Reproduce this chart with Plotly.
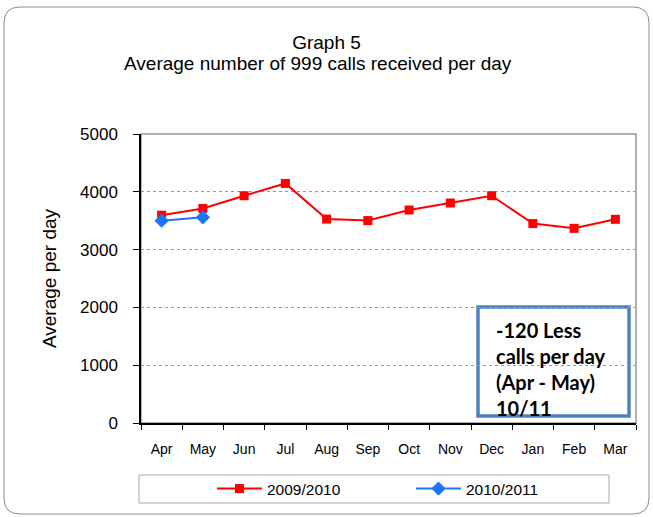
import plotly.graph_objects as go

months = ["Apr", "May", "Jun", "Jul", "Aug", "Sep", "Oct", "Nov", "Dec", "Jan", "Feb", "Mar"]
calls_2009_10 = [3595, 3712, 3932, 4145, 3528, 3502, 3685, 3806, 3932, 3450, 3368, 3524]
calls_2010_11 = [3500, 3558]
y_ticks = [0, 1000, 2000, 3000, 4000, 5000]

W, H = 653, 517
L, R, T, B = 141, 17, 134, 94
pw, ph = W - L - R, H - T - B

def px(x):
    return (x - L) / pw

def py(y):
    return (H - B - y) / ph

fig = go.Figure()
fig.add_trace(go.Scatter(
    x=months, y=calls_2009_10, name="2009/2010", mode="lines+markers",
    line=dict(color="#ff0000", width=2),
    marker=dict(symbol="square", size=9, color="#ff0000"),
))
fig.add_trace(go.Scatter(
    x=months[:len(calls_2010_11)], y=calls_2010_11, name="2010/2011", mode="lines+markers",
    line=dict(color="#1a75ff", width=2),
    marker=dict(symbol="diamond", size=11, color="#1a75ff"),
))

font = "Liberation Sans, Arial, sans-serif"

# rounded outer frame
x0, x1, y0, y1, r = 4, 649, 7, 514, 16
path = (f"M {px(x0+r)},{py(y0)} L {px(x1-r)},{py(y0)} Q {px(x1)},{py(y0)} {px(x1)},{py(y0+r)} "
        f"L {px(x1)},{py(y1-r)} Q {px(x1)},{py(y1)} {px(x1-r)},{py(y1)} "
        f"L {px(x0+r)},{py(y1)} Q {px(x0)},{py(y1)} {px(x0)},{py(y1-r)} "
        f"L {px(x0)},{py(y0+r)} Q {px(x0)},{py(y0)} {px(x0+r)},{py(y0)} Z")

shapes = [
    dict(type="path", xref="paper", yref="paper", path=path,
         line=dict(color="#8c8c8c", width=1), layer="below"),
    dict(type="rect", xref="paper", yref="paper", x0=0, x1=1, y0=0, y1=1,
         line=dict(color="#999999", width=1.5), layer="below"),
    dict(type="rect", xref="paper", yref="paper", x0=px(139), x1=px(609), y0=py(475), y1=py(503),
         line=dict(color="#aaaaaa", width=1)),
    dict(type="rect", xref="paper", yref="paper", x0=px(478), x1=px(629), y0=py(307), y1=py(416),
         line=dict(color="#4f81bd", width=3.5), fillcolor="white", layer="below"),
]

fig.update_layout(
    width=W, height=H,
    margin=dict(l=L, r=R, t=T, b=B, autoexpand=False),
    paper_bgcolor="white", plot_bgcolor="white",
    font=dict(family=font, color="black"),
    title=dict(
        text="Graph 5",
        x=0.5, xanchor="center", y=1 - 42 / H, yanchor="middle",
        font=dict(size=19, family=font),
    ),
    showlegend=True,
    legend=dict(orientation="h", x=px(212), xanchor="left", y=py(489), yanchor="middle",
                font=dict(size=15.5, family=font), bgcolor="rgba(0,0,0,0)",
                entrywidth=139, itemwidth=45),
    xaxis=dict(
        type="category", tickson="boundaries", ticks="outside", ticklen=5,
        tickcolor="black", showline=True, linecolor="black", linewidth=1.5,
        showgrid=False, tickfont=dict(size=14), range=[-0.5, 11.5],
        ticklabelstandoff=12,
    ),
    yaxis=dict(
        range=[0, 5000], tickvals=y_ticks, ticks="outside", ticklen=6,
        tickcolor="black", showline=True, linecolor="black", linewidth=1.5,
        showgrid=True, gridcolor="#999999", griddash="dot", gridwidth=1,
        tickfont=dict(size=17), zeroline=False, ticklabelstandoff=12,
        title=dict(text="Average per day", font=dict(size=19), standoff=18),
    ),
    shapes=shapes,
    annotations=[
        dict(xref="paper", yref="paper", x=px(318), y=py(63), xanchor="center", yanchor="middle",
             showarrow=False, text="Average number of 999 calls received per day",
             font=dict(size=19, family=font, color="black")),
        dict(xref="paper", yref="paper", x=px(494), y=py(316), xanchor="left", yanchor="top",
             align="left", showarrow=False,
             text="<b>-120 Less<br>calls per day<br>(Apr - May)<br>10/11</b>",
             font=dict(size=20, family="Lato, Open Sans, sans-serif", color="black")),
    ],
)

fig.write_html(
    "out.html",
    config={"responsive": False, "displayModeBar": False},
    post_script="document.body.style.margin='0';document.body.style.overflow='hidden';",
)
